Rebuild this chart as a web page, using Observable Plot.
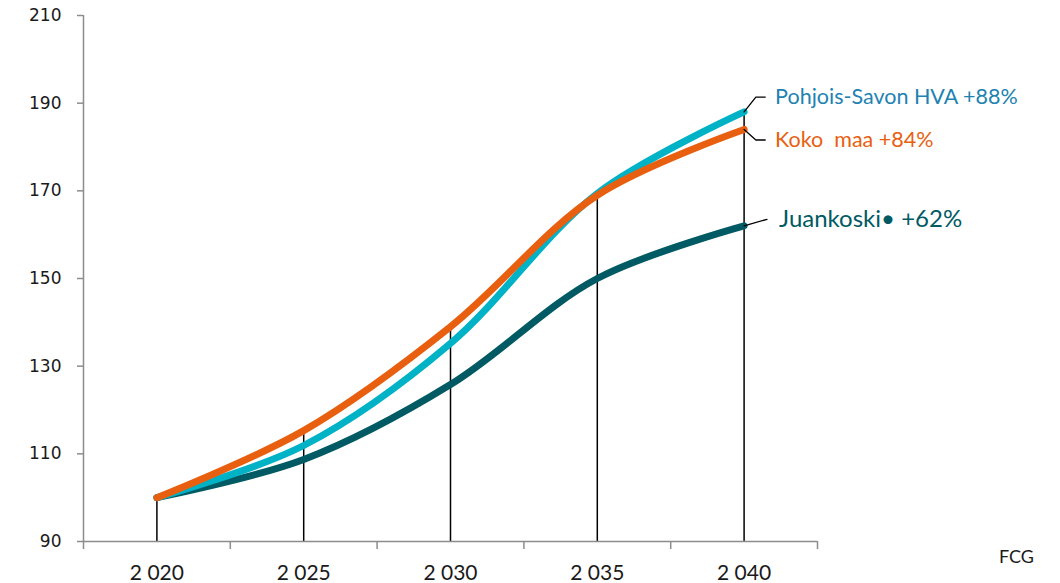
<!DOCTYPE html>
<html>
<head>
<meta charset="utf-8">
<script src="https://cdn.jsdelivr.net/npm/d3@7"></script>
<script src="https://cdn.jsdelivr.net/npm/@observablehq/plot@0.6"></script>
<style>
  html, body { margin: 0; padding: 0; background: #fff; }
  #chart { position: relative; width: 1060px; height: 583px; }
</style>
</head>
<body>
<div id="chart"></div>
<script>
const years = [2020, 2025, 2030, 2035, 2040];
const yearLabels = ["2 020", "2 025", "2 030", "2 035", "2 040"];
const yTicks = [90, 110, 130, 150, 170, 190, 210];
const seriesNames = ["Juankoski", "Pohjois-Savon HVA", "Koko maa"];
const juankoski = [100, 108.7, 125.8, 150, 162];
const pohjoisSavon = [100, 111.9, 135.2, 169.4, 188];
const kokoMaa = [100, 115.3, 139, 169, 184];
const seriesColors = ["#005A64", "#00B2C6", "#E8600F"];
const labelColors = ["#005A64", "#2182B2", "#E8600F"];
const labelTexts = ["Juankoski\u2022 +62%", "Pohjois-Savon HVA +88%", "Koko  maa +84%"];
const labelSizes = [24, 21.5, 21.5];
const labelY = [163.5, 191.4, 181.6];
const source = "FCG";

const seriesValues = [juankoski, pohjoisSavon, kokoMaa];
const data = [];
seriesNames.forEach((name, i) => years.forEach((yr, j) => data.push({series: name, year: yr, value: seriesValues[i][j]})));
const tops = years.map((yr, j) => ({year: yr, value: d3.max(seriesValues, s => s[j])}));
const bandEdges = d3.range(years.length + 1).map(i => years[0] - 2.5 + 5 * i);
const last = years[years.length - 1];

const leaders = [];
seriesNames.forEach((name, i) => {
  const v = seriesValues[i][years.length - 1];
  const pts = i === 0
    ? [[last, v], [last + 0.78, labelY[i]]]
    : [[last, v], [last + 0.4, labelY[i]], [last + 0.72, labelY[i]]];
  pts.forEach(p => leaders.push({series: name, x: p[0], y: p[1]}));
});
const labelMarks = seriesNames.map((name, i) =>
  Plot.text([labelTexts[i]], {x: last, y: labelY[i], text: d => d, fill: labelColors[i], textAnchor: "start",
    dx: i === 0 ? 35 : 31, fontFamily: "Lato", fontSize: labelSizes[i]}));

const plot = Plot.plot({
  width: 1060,
  height: 583,
  marginLeft: 83,
  marginRight: 243,
  marginTop: 15,
  marginBottom: 42,
  style: {fontFamily: "DejaVu Sans", fontSize: "17px", color: "#1a1a1a", background: "#fff"},
  x: {type: "linear", domain: [bandEdges[0], bandEdges[bandEdges.length - 1]]},
  y: {domain: [90, 210]},
  color: {domain: seriesNames, range: seriesColors},
  marks: [
    Plot.ruleX(tops, {x: "year", y1: 90, y2: "value", stroke: "#000", strokeWidth: 1.5}),
    Plot.line(data, {x: "year", y: "value", z: "series", stroke: "series", strokeWidth: 7, curve: "catmull-rom", strokeLinecap: "round", strokeLinejoin: "round"}),
    Plot.ruleX([bandEdges[0]], {stroke: "#8c8c8c", strokeWidth: 1.5}),
    Plot.ruleY([90], {stroke: "#8c8c8c", strokeWidth: 1.5}),
    Plot.axisY({ticks: yTicks, tickSize: 6, tickPadding: 16, stroke: "#8c8c8c", strokeWidth: 1.5, fill: "#1a1a1a", fontSize: 17, label: null}),
    Plot.axisX({ticks: bandEdges, tickSize: 8, tickFormat: () => "", stroke: "#8c8c8c", strokeWidth: 1.5, label: null}),
    Plot.text(years, {x: d => d, y: 90, text: (d, i) => yearLabels[i], dy: 32, fill: "#1a1a1a", fontFamily: "Lato", fontSize: 21}),
    Plot.line(leaders, {x: "x", y: "y", z: "series", stroke: "#000", strokeWidth: 1.3}),
    ...labelMarks
  ]
});
document.getElementById("chart").appendChild(plot);

const fcg = document.createElement("div");
fcg.textContent = source;
fcg.style.cssText = "position:absolute;left:999px;top:545px;font:18px Lato, sans-serif;color:#1a1a1a;";
document.getElementById("chart").appendChild(fcg);
</script>
</body>
</html>
